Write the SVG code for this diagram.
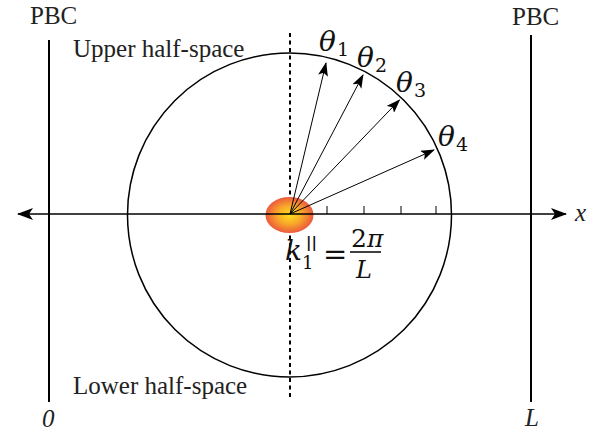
<svg xmlns="http://www.w3.org/2000/svg" width="599" height="431" viewBox="0 0 599 431">
<style>
.t{font-family:"Liberation Serif","Times New Roman",serif;font-size:25px;fill:#222}
.m{font-family:"DejaVu Serif","Liberation Serif",serif;font-style:italic;fill:#111}
.n{font-family:"DejaVu Serif","Liberation Serif",serif;fill:#111}
.ray{stroke:#000;stroke-width:1;fill:none;marker-end:url(#ah)}
.tick{stroke:#000;stroke-width:1}
</style>
<defs>
<marker id="ah" markerUnits="userSpaceOnUse" markerWidth="14" markerHeight="10" refX="13" refY="5" orient="auto">
<path d="M0,0 L14,5 L0,10 L3,5 Z" fill="#000"/>
</marker>
<marker id="ah2" markerUnits="userSpaceOnUse" markerWidth="16" markerHeight="12" refX="15" refY="6" orient="auto-start-reverse">
<path d="M0,0 L16,6 L0,12 L4,6 Z" fill="#000"/>
</marker>
<radialGradient id="g" cx="0.5" cy="0.5" r="0.5">
<stop offset="0" stop-color="#ffe01a"/>
<stop offset="0.5" stop-color="#f8a92a"/>
<stop offset="1" stop-color="#ec5a3c"/>
</radialGradient>
</defs>
<g id="boundaries">
<line x1="49" y1="40" x2="49" y2="402" stroke="#000" stroke-width="2"/>
<line x1="531" y1="35" x2="531" y2="402" stroke="#000" stroke-width="2"/>
<text class="t" x="30" y="24">PBC</text>
<text class="t" x="512" y="25">PBC</text>
<text class="t" x="42" y="427" font-style="italic">0</text>
<text class="t" x="525" y="426" font-style="italic">L</text>
</g>
<g id="circle">
<circle cx="289.5" cy="215" r="162" fill="none" stroke="#000" stroke-width="1.5"/>
<line x1="290" y1="33" x2="290" y2="400" stroke="#000" stroke-width="2" stroke-dasharray="4,3.5"/>
<text class="t" x="73" y="57">Upper half-space</text>
<text class="t" x="73" y="394">Lower half-space</text>
</g>
<g id="source">
<ellipse cx="289.5" cy="215" rx="24" ry="18" fill="url(#g)"/>
</g>
<g id="connectors">
<line x1="18" y1="214" x2="566" y2="214" stroke="#000" stroke-width="1.5" marker-start="url(#ah2)" marker-end="url(#ah2)"/>
<line class="tick" x1="327" y1="206" x2="327" y2="214"/>
<line class="tick" x1="364" y1="206" x2="364" y2="214"/>
<line class="tick" x1="401" y1="206" x2="401" y2="214"/>
<line class="tick" x1="436" y1="206" x2="436" y2="214"/>
<line class="ray" x1="290" y1="214" x2="326" y2="63"/>
<line class="ray" x1="290" y1="214" x2="363" y2="75"/>
<line class="ray" x1="290" y1="214" x2="399.5" y2="100"/>
<line class="ray" x1="290" y1="214" x2="434" y2="150"/>
</g>
<g id="labels">
<text class="m" x="319" y="51" font-size="28">θ</text><text class="n" x="337" y="56" font-size="19">1</text>
<text class="m" x="357" y="67" font-size="28">θ</text><text class="n" x="375" y="72" font-size="19">2</text>
<text class="m" x="396" y="92" font-size="28">θ</text><text class="n" x="414" y="97" font-size="19">3</text>
<text class="m" x="438" y="146" font-size="28">θ</text><text class="n" x="456" y="151" font-size="19">4</text>
<text class="t" x="575" y="221" font-style="italic" font-size="34">x</text>
<text class="m" x="285" y="260" font-size="28">k</text>
<text class="n" x="302" y="269" font-size="18">1</text>
<text class="n" x="306" y="247" font-size="15" font-weight="bold">||</text>
<text class="n" x="323" y="264" font-size="29">=</text>
<text class="n" x="351" y="247" font-size="25">2<tspan font-style="italic">π</tspan></text>
<line x1="350" y1="252" x2="381" y2="252" stroke="#000" stroke-width="1.5"/>
<text class="m" x="356" y="278" font-size="24">L</text>
</g>
</svg>
